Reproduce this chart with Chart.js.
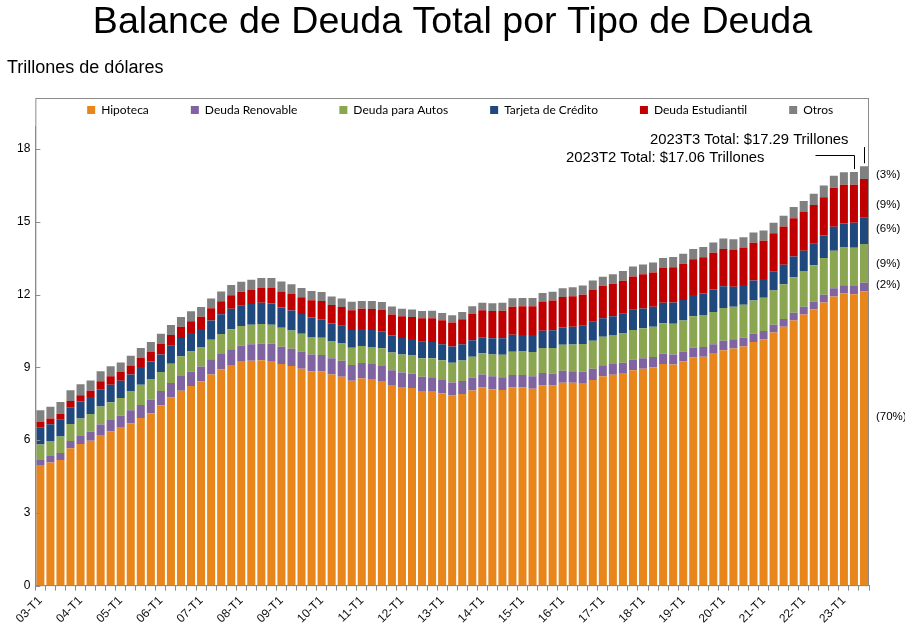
<!DOCTYPE html>
<html>
<head>
<meta charset="utf-8">
<script src="https://cdn.jsdelivr.net/npm/chart.js@4.4.0/dist/chart.umd.min.js"></script>
<style>
    html, body { margin: 0; padding: 0; background: #fff; }
    #wrap { width: 905px; height: 630px; }
</style>
</head>
<body>
<div id="wrap"><canvas id="myChart"></canvas></div>
<script>
const chartTitle = 'Balance de Deuda Total por Tipo de Deuda';
const yUnit = 'Trillones de dólares';

// 03-T1 ... 23-T3
const quarterLabels = [];
for (let yr = 3; yr <= 23; yr++) {
    for (let q = 1; q <= 4; q++) {
        if (yr === 23 && q > 3) break;
        quarterLabels.push(String(yr).padStart(2, '0') + '-T' + q);
    }
}

const seriesNames = ['Hipoteca', 'Deuda Renovable', 'Deuda para Autos', 'Tarjeta de Crédito', 'Deuda Estudiantil', 'Otros'];
const seriesColors = ['#E8861C', '#8064A2', '#8AA650', '#1F497D', '#C00000', '#808080'];

const mortgage = [4.94,5.08,5.18,5.66, 5.84,5.97,6.21,6.36, 6.51,6.70,6.91,7.10, 7.44,7.76,8.04,8.23,
    8.42,8.71,8.92,9.10, 9.23,9.27,9.29,9.26, 9.14,9.06,8.94,8.84, 8.83,8.70,8.61,8.45,
    8.54,8.52,8.44,8.27, 8.19,8.15,8.03,8.03, 7.93,7.84,7.90,8.05, 8.17,8.10,8.07,8.17,
    8.17,8.12,8.26,8.25, 8.37,8.36,8.35,8.48, 8.63,8.69,8.74,8.88, 8.94,9.00,9.14,9.12,
    9.24,9.41,9.44,9.56, 9.71,9.78,9.86,10.04, 10.16,10.44,10.67,10.93, 11.18,11.39,11.67,11.92,
    12.04,12.01,12.14];
const revolving = [0.24,0.26,0.29,0.30, 0.33,0.37,0.43,0.47, 0.50,0.53,0.54,0.57, 0.58,0.59,0.60,0.60,
    0.61,0.62,0.63,0.65, 0.66,0.68,0.69,0.71, 0.71,0.71,0.71,0.69, 0.68,0.67,0.66,0.65,
    0.64,0.62,0.62,0.61, 0.60,0.59,0.58,0.56, 0.55,0.54,0.54,0.53, 0.53,0.53,0.52,0.51,
    0.51,0.51,0.51,0.49, 0.49,0.48,0.47,0.46, 0.46,0.45,0.45,0.44, 0.44,0.43,0.42,0.41,
    0.41,0.40,0.40,0.39, 0.39,0.38,0.36,0.35, 0.34,0.32,0.32,0.32, 0.32,0.32,0.32,0.34,
    0.34,0.34,0.35];
const auto = [0.64,0.62,0.68,0.70, 0.72,0.74,0.75,0.73, 0.73,0.77,0.83,0.83, 0.79,0.80,0.82,0.82,
    0.79,0.81,0.82,0.82, 0.81,0.81,0.81,0.79, 0.78,0.75,0.74,0.72, 0.71,0.70,0.71,0.71,
    0.70,0.70,0.73,0.73, 0.74,0.75,0.77,0.78, 0.81,0.81,0.84,0.86, 0.88,0.90,0.93,0.96,
    0.97,1.00,1.03,1.06, 1.07,1.10,1.14,1.16, 1.17,1.19,1.21,1.22, 1.23,1.24,1.26,1.27,
    1.28,1.30,1.32,1.33, 1.35,1.34,1.36,1.37, 1.37,1.41,1.44,1.46, 1.47,1.50,1.52,1.55,
    1.56,1.58,1.60];
const creditCard = [0.69,0.69,0.69,0.70, 0.70,0.70,0.71,0.72, 0.71,0.71,0.73,0.74, 0.72,0.74,0.75,0.77,
    0.76,0.79,0.82,0.85, 0.84,0.85,0.87,0.87, 0.84,0.82,0.81,0.80, 0.76,0.74,0.73,0.73,
    0.70,0.70,0.70,0.70, 0.68,0.68,0.68,0.68, 0.66,0.67,0.67,0.68, 0.66,0.67,0.68,0.70,
    0.68,0.70,0.71,0.73, 0.71,0.73,0.75,0.78, 0.76,0.78,0.81,0.83, 0.82,0.83,0.84,0.87,
    0.85,0.87,0.88,0.93, 0.89,0.82,0.81,0.82, 0.77,0.79,0.80,0.86, 0.84,0.89,0.93,0.99,
    0.99,1.03,1.08];
const student = [0.24,0.24,0.25,0.25, 0.26,0.26,0.33,0.35, 0.36,0.37,0.38,0.39, 0.43,0.44,0.46,0.48,
    0.51,0.51,0.53,0.55, 0.58,0.58,0.61,0.64, 0.66,0.68,0.69,0.72, 0.76,0.76,0.78,0.81,
    0.84,0.87,0.87,0.87, 0.90,0.91,0.96,0.97, 0.99,0.99,1.03,1.08, 1.11,1.12,1.13,1.16,
    1.19,1.19,1.20,1.23, 1.26,1.26,1.28,1.31, 1.34,1.34,1.36,1.38, 1.41,1.41,1.44,1.46,
    1.49,1.48,1.50,1.51, 1.54,1.54,1.55,1.56, 1.58,1.57,1.58,1.58, 1.59,1.59,1.57,1.60,
    1.60,1.57,1.60];
const other = [0.48,0.49,0.48,0.45, 0.45,0.42,0.41,0.42, 0.39,0.40,0.41,0.42, 0.42,0.42,0.41,0.41,
    0.40,0.40,0.41,0.42, 0.41,0.42,0.41,0.41, 0.41,0.41,0.38,0.38, 0.37,0.35,0.35,0.35,
    0.32,0.33,0.33,0.33, 0.31,0.31,0.30,0.31, 0.30,0.30,0.30,0.32, 0.31,0.32,0.33,0.35,
    0.34,0.34,0.35,0.36, 0.36,0.37,0.38,0.39, 0.38,0.39,0.40,0.41, 0.40,0.41,0.41,0.42,
    0.41,0.42,0.42,0.43, 0.43,0.42,0.42,0.42, 0.42,0.43,0.44,0.46, 0.46,0.47,0.49,0.50,
    0.51,0.52,0.52];

const seriesValues = [mortgage, revolving, auto, creditCard, student, other];

// shares of the latest quarter, shown right of the plot (value = where the label sits)
const shareLabels = ['(70%)', '(2%)', '(9%)', '(6%)', '(9%)', '(3%)'];
const shareAt = [6.96, 12.4, 13.26, 14.7, 15.69, 16.93];

const calloutT3 = '2023T3 Total: $17.29 Trillones';
const calloutT2 = '2023T2 Total: $17.06 Trillones';

const totals = quarterLabels.map((_, i) => seriesValues.reduce((acc, s) => acc + s[i], 0));

const FONT = '"Liberation Sans", Arial, sans-serif';

const decorations = {
    id: 'decorations',
    afterLayout(chart) {
        // nudge the legend row a bit right, like the original
        chart.legend.left += 8;
        chart.legend.right += 8;
    },
    afterDraw(chart) {
        const { ctx, chartArea: { left, right, bottom }, scales: { x, y } } = chart;
        ctx.save();

        // plot frame (legend sits inside it) + small inside ticks on y
        const frameTop = Math.round(y.getPixelForValue(20.12)) + 0.5;
        ctx.strokeStyle = '#8c8c8c';
        ctx.lineWidth = 1;
        ctx.strokeRect(left + 0.5, frameTop, right - left - 1, bottom - frameTop);
        y.ticks.forEach(t => {
            const py = Math.round(y.getPixelForValue(t.value)) + 0.5;
            ctx.beginPath();
            ctx.moveTo(left, py);
            ctx.lineTo(left + 5, py);
            ctx.stroke();
        });

        ctx.fillStyle = '#000';
        ctx.textBaseline = 'middle';
        ctx.textAlign = 'center';
        ctx.font = '37.6px ' + FONT;
        ctx.fillText(chartTitle, chart.width / 2, 23);

        ctx.textAlign = 'left';
        ctx.font = '18px ' + FONT;
        ctx.fillText(yUnit, 7, 68);

        ctx.font = '11.5px ' + FONT;
        shareLabels.forEach((s, i) => ctx.fillText(s, right + 7, y.getPixelForValue(shareAt[i])));

        // callouts for the last two quarters
        const n = quarterLabels.length;
        const x3 = Math.round(x.getPixelForValue(n - 1)) + 0.5;
        const x2 = Math.round(x.getPixelForValue(n - 2)) + 0.5;
        ctx.font = '14.8px ' + FONT;
        ctx.textAlign = 'right';
        ctx.fillText(calloutT3, x3 - 16, y.getPixelForValue(18.37));
        ctx.fillText(calloutT2, x2 - 90, y.getPixelForValue(17.63));

        ctx.strokeStyle = '#000';
        ctx.beginPath();
        ctx.moveTo(x3, y.getPixelForValue(18.08));
        ctx.lineTo(x3, y.getPixelForValue(totals[n - 1]) - 3);
        const hy = Math.round(y.getPixelForValue(17.75)) + 0.5;
        ctx.moveTo(x2 - 39, hy);
        ctx.lineTo(x2, hy);
        ctx.lineTo(x2, y.getPixelForValue(totals[n - 2]) - 3);
        ctx.stroke();

        ctx.restore();
    }
};

const ctx = document.getElementById('myChart').getContext('2d');
new Chart(ctx, {
    type: 'bar',
    data: {
        labels: quarterLabels,
        datasets: seriesNames.map((name, i) => ({
            label: name,
            data: seriesValues[i],
            backgroundColor: seriesColors[i],
            borderWidth: 0,
            barPercentage: 0.8,
            categoryPercentage: 1.0
        }))
    },
    options: {
        responsive: true,
        maintainAspectRatio: false,
        animation: false,
        layout: { padding: { top: 62, left: 12, right: 36, bottom: 1 } },
        plugins: {
            legend: {
                position: 'top',
                fullSize: false,
                labels: {
                    boxWidth: 8,
                    boxHeight: 8,
                    padding: 42,
                    color: '#000',
                    font: { family: 'Lato', size: 12 }
                }
            },
            tooltip: { enabled: false }
        },
        scales: {
            x: {
                stacked: true,
                grid: { drawOnChartArea: false, tickLength: 5, color: '#8c8c8c' },
                border: { color: '#8c8c8c' },
                ticks: {
                    autoSkip: false,
                    minRotation: 45,
                    maxRotation: 45,
                    color: '#111',
                    font: { family: 'Liberation Sans', size: 12 },
                    callback: function (val, idx) {
                        return idx % 4 === 0 ? this.getLabelForValue(val) : '';
                    }
                }
            },
            y: {
                stacked: true,
                min: 0,
                max: 18.95,
                grid: { drawOnChartArea: false, drawTicks: false },
                border: { color: '#8c8c8c' },
                afterBuildTicks: scale => {
                    scale.ticks = scale.ticks.filter(t => t.value % 3 === 0);
                },
                ticks: {
                    stepSize: 3,
                    padding: 5,
                    color: '#000',
                    font: { family: 'Liberation Sans', size: 12 }
                }
            }
        }
    },
    plugins: [decorations]
});
</script>
</body>
</html>
